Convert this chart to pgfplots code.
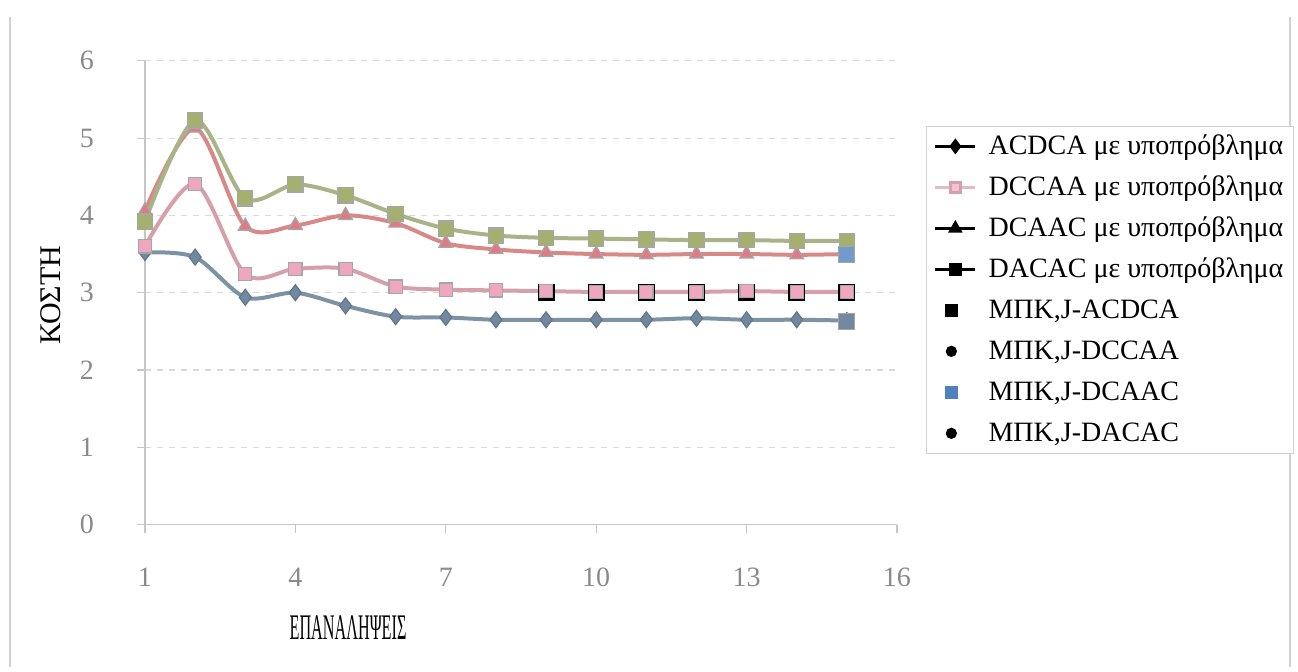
\documentclass[border=0pt]{standalone}
\usepackage{fontspec}
\setmainfont{Liberation Serif}
\usepackage{graphicx}
\usepackage{pgfplots}
\pgfplotsset{compat=1.18}
\definecolor{acl}{HTML}{7C93A6}
\definecolor{acf}{HTML}{7089A0}
\definecolor{dcl}{HTML}{D6A0AA}
\definecolor{dcf}{HTML}{EFA6BF}
\definecolor{dal}{HTML}{D98888}
\definecolor{daf}{HTML}{E07B86}
\definecolor{dgl}{HTML}{A9B388}
\definecolor{dgf}{HTML}{A3B070}
\definecolor{mblue}{HTML}{4F81BD}
\definecolor{ticktext}{HTML}{8A8A8A}
\pgfplotsset{
  linelegend/.style={legend image code/.code={
    \draw[mark repeat=2,mark phase=2] plot coordinates {(0pt,0pt)(10pt,0pt)(20pt,0pt)};}},
  marklegend/.style={legend image code/.code={
    \draw plot coordinates {(8pt,0pt)};}},
}
\begin{document}
\begin{tikzpicture}
\path[use as bounding box] (0,0) rectangle (649pt,335.5pt);
\draw[gray!35, line width=0.8pt] (5pt,2pt) -- (5pt,327pt);
\draw[gray!35, line width=0.8pt] (645pt,2pt) -- (645pt,327pt);
\begin{axis}[
  at={(72.5pt,73.2pt)}, anchor=south west,
  scale only axis, width=376pt, height=231.9pt,
  xmin=1, xmax=16, ymin=0, ymax=6,
  xtick={1,4,7,10,13,16}, ytick={0,1,2,3,4,5,6},
  axis x line*=bottom, axis y line*=left,
  axis line style={gray!45, line width=0.6pt},
  tick style={gray!45, line width=0.6pt},
  tick align=outside, major tick length=4pt,
  ymajorgrids, grid style={gray!30, dashed, line width=0.6pt},
  /pgf/number format/assume math mode=true,
  tick label style={font=\fontsize{14}{16}\selectfont, text=ticktext},
  xticklabel style={anchor=center, yshift=-22.5pt},
  yticklabel style={anchor=center, xshift=-25pt},
  xlabel={\scalebox{0.45}[1]{\fontsize{18}{20}\selectfont ΕΠΑΝΑΛΗΨΕΙΣ}},
  xlabel style={at={(rel axis cs:0.27,-0.223)}, anchor=center},
  ylabel={\fontsize{15}{17}\selectfont ΚΟΣΤΗ},
  ylabel style={at={(rel axis cs:-0.126,0.495)}, anchor=center},
  legend style={at={(rel axis cs:1.038,0.86)}, anchor=north west,
    draw=gray!35, line width=0.6pt, fill=white,
    font=\fontsize{14}{16}\selectfont,
    row sep=4.5pt, inner xsep=4pt, inner ysep=2pt,
    nodes={text height=11pt, text depth=3pt, inner sep=1pt},
    /tikz/every odd column/.append style={column sep=5pt},
    legend cell align=left},
  clip=false,
]
\addlegendimage{linelegend, black, line width=1.2pt, mark=diamond*, mark size=3pt, mark options={fill=black}}
\addlegendentry{ACDCA με υποπρόβλημα}
\addlegendimage{linelegend, dcl!70, line width=1.2pt, mark=square*, mark size=2.5pt, mark options={fill=dcf!70, draw=dcl}}
\addlegendentry{DCCAA με υποπρόβλημα}
\addlegendimage{linelegend, black, line width=1.2pt, mark=triangle*, mark size=3pt, mark options={fill=black}}
\addlegendentry{DCAAC με υποπρόβλημα}
\addlegendimage{linelegend, black, line width=1.2pt, mark=square*, mark size=2.5pt, mark options={fill=black}}
\addlegendentry{DACAC με υποπρόβλημα}
\addlegendimage{marklegend, only marks, mark=square*, mark size=3pt, black}
\addlegendentry{ΜΠΚ,J-ACDCA}
\addlegendimage{marklegend, only marks, mark=*, mark size=2.5pt, black}
\addlegendentry{ΜΠΚ,J-DCCAA}
\addlegendimage{marklegend, only marks, mark=square*, mark size=3pt, mblue}
\addlegendentry{ΜΠΚ,J-DCAAC}
\addlegendimage{marklegend, only marks, mark=*, mark size=2.5pt, black}
\addlegendentry{ΜΠΚ,J-DACAC}

% ACDCA
\addplot[forget plot, smooth, color=acl, line width=2pt, mark=diamond*, mark size=4pt,
  mark options={fill=acf, draw=acl!80!black, line width=0.6pt}]
coordinates {(1,3.52)(2,3.46)(3,2.94)(4,3.00)(5,2.83)(6,2.69)(7,2.68)(8,2.65)(9,2.65)(10,2.65)(11,2.65)(12,2.67)(13,2.65)(14,2.65)(15,2.64)};
% MPK ACDCA black squares
\addplot[forget plot, only marks, mark=square*, mark size=4pt, black]
coordinates {(9,3.01)(10,3.00)(11,3.00)(12,3.00)(13,3.01)(14,3.00)(15,3.00)};
% DCCAA
\addplot[forget plot, smooth, color=dcl, line width=2pt, mark=square*, mark size=3.3pt,
  mark options={fill=dcf, draw=gray!70, line width=0.6pt}]
coordinates {(1,3.60)(2,4.41)(3,3.24)(4,3.31)(5,3.31)(6,3.08)(7,3.04)(8,3.03)(9,3.02)(10,3.01)(11,3.01)(12,3.01)(13,3.02)(14,3.01)(15,3.01)};
% DCAAC
\addplot[forget plot, smooth, color=dal, line width=2pt, mark=triangle*, mark size=4pt,
  mark options={fill=daf, draw=gray!70, line width=0.6pt}]
coordinates {(1,4.06)(2,5.13)(3,3.86)(4,3.87)(5,4.00)(6,3.90)(7,3.64)(8,3.56)(9,3.52)(10,3.50)(11,3.49)(12,3.50)(13,3.50)(14,3.49)(15,3.50)};
% DACAC
\addplot[forget plot, smooth, color=dgl, line width=2pt, mark=square*, mark size=3.8pt,
  mark options={fill=dgf, draw=gray!70, line width=0.6pt}]
coordinates {(1,3.92)(2,5.23)(3,4.22)(4,4.40)(5,4.26)(6,4.02)(7,3.83)(8,3.74)(9,3.71)(10,3.70)(11,3.69)(12,3.68)(13,3.68)(14,3.67)(15,3.67)};
% MPK DCAAC blue square
\addplot[forget plot, only marks, mark=square*, mark size=4pt, mark options={fill=mblue!80, draw=gray!70}]
coordinates {(15,3.50)};
% gray square at end of ACDCA
\addplot[forget plot, only marks, mark=square*, mark size=4pt, mark options={fill=acf, draw=gray!70}]
coordinates {(15,2.63)};
\end{axis}
\end{tikzpicture}
\end{document}
